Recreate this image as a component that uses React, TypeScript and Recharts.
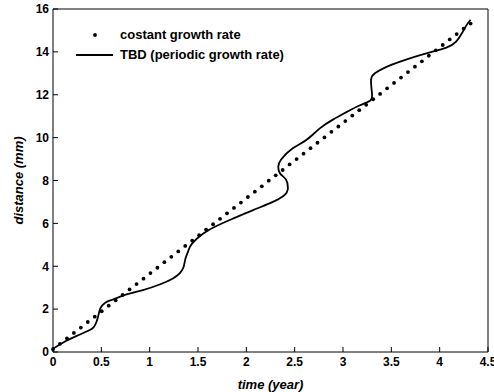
import React from "react";
import {
  ComposedChart,
  Line,
  Scatter,
  XAxis,
  YAxis,
  Legend,
} from "recharts";

// constant growth rate (dotted)
const dotTimes = [
  0, 0.072, 0.144, 0.216, 0.288, 0.36, 0.432, 0.504, 0.576, 0.648, 0.72,
  0.792, 0.864, 0.936, 1.008, 1.08, 1.152, 1.224, 1.296, 1.368, 1.44, 1.512,
  1.584, 1.656, 1.728, 1.8, 1.872, 1.944, 2.016, 2.088, 2.16, 2.232, 2.304,
  2.376, 2.448, 2.52, 2.592, 2.664, 2.736, 2.808, 2.88, 2.952, 3.024, 3.096,
  3.168, 3.24, 3.312, 3.384, 3.456, 3.528, 3.6, 3.672, 3.744, 3.816, 3.888,
  3.96, 4.032, 4.104, 4.176, 4.248, 4.32,
];
const dotDistances = [
  0.13, 0.38, 0.64, 0.89, 1.14, 1.4, 1.65, 1.9, 2.16, 2.41, 2.66, 2.92, 3.17,
  3.42, 3.68, 3.93, 4.19, 4.44, 4.69, 4.95, 5.2, 5.45, 5.71, 5.96, 6.21, 6.47,
  6.72, 6.97, 7.23, 7.48, 7.73, 7.99, 8.24, 8.49, 8.75, 9.0, 9.25, 9.51, 9.76,
  10.01, 10.27, 10.52, 10.77, 11.03, 11.28, 11.53, 11.79, 12.04, 12.3, 12.55,
  12.8, 13.06, 13.31, 13.56, 13.82, 14.07, 14.32, 14.58, 14.83, 15.08, 15.32,
];

// TBD (periodic growth rate), solid
const curveTimes = [
  0, 0.12, 0.245, 0.365, 0.42, 0.45, 0.47, 0.49, 0.54, 0.62, 0.76, 0.93, 1.11,
  1.24, 1.31, 1.35, 1.37, 1.4, 1.44, 1.555, 1.69, 1.865, 2.07, 2.24, 2.39,
  2.43, 2.41, 2.35, 2.33, 2.36, 2.48, 2.62, 2.76, 2.9, 3.04, 3.17, 3.28, 3.3,
  3.29, 3.33, 3.45, 3.66, 3.88, 4.07, 4.17, 4.23, 4.28, 4.32,
];
const curveDistances = [
  0.15, 0.48, 0.75, 0.99, 1.15, 1.41, 1.72, 2.03, 2.3, 2.45, 2.69, 2.89, 3.16,
  3.43, 3.67, 3.95, 4.35, 4.72, 5.07, 5.53, 5.88, 6.23, 6.62, 6.93, 7.3, 7.65,
  8.05, 8.32, 8.64, 8.98, 9.5, 9.89, 10.43, 10.85, 11.2, 11.5, 11.72, 12.06,
  12.69, 13.0, 13.3, 13.65, 13.95, 14.2, 14.48, 14.87, 15.26, 15.5,
];

const xTicks = [0, 0.5, 1, 1.5, 2, 2.5, 3, 3.5, 4, 4.5];
const yTicks = [0, 2, 4, 6, 8, 10, 12, 14, 16];

const dotData = dotTimes.map((x, i) => ({ x, y: dotDistances[i] }));
const curveData = curveTimes.map((x, i) => ({ x, y: curveDistances[i] }));

const FONT = "'Liberation Sans', Arial, sans-serif";
const tickStyle = { fontSize: 12, fontWeight: 700, fill: "#000", fontFamily: FONT };
const axisLabelStyle = {
  fontSize: 13,
  fontWeight: 700,
  fontStyle: "italic",
  fill: "#000",
  fontFamily: FONT,
};

function Dot(props: any) {
  return <circle cx={props.cx} cy={props.cy} r={1.9} fill="#000" />;
}

function LegendBox() {
  return (
    <div
      style={{
        fontFamily: FONT,
        fontWeight: 700,
        fontSize: 13,
        color: "#000",
        lineHeight: "20px",
      }}
    >
      <div style={{ display: "flex", alignItems: "center" }}>
        <svg width={45} height={20}>
          <circle cx={20} cy={10} r={1.9} fill="#000" />
        </svg>
        <span>costant growth rate</span>
      </div>
      <div style={{ display: "flex", alignItems: "center" }}>
        <svg width={45} height={20}>
          <line x1={1} y1={10} x2={38} y2={10} stroke="#000" strokeWidth={1.8} />
        </svg>
        <span>TBD (periodic growth rate)</span>
      </div>
    </div>
  );
}

export default function App() {
  return (
    <div style={{ position: "fixed", left: 0, top: 0, background: "#fff" }}>
      <ComposedChart
        width={494}
        height={392}
        margin={{ top: 8, right: 5, bottom: 0, left: 0 }}
      >
        <XAxis
          dataKey="x"
          type="number"
          domain={[0, 4.5]}
          ticks={xTicks}
          interval={0}
          height={40}
          stroke="#000"
          tickSize={-5}
          tickMargin={10}
          tick={tickStyle}
          label={{
            value: "time (year)",
            position: "insideBottom",
            offset: 3,
            style: axisLabelStyle,
          }}
        />
        <XAxis
          xAxisId="top"
          dataKey="x"
          type="number"
          orientation="top"
          domain={[0, 4.5]}
          ticks={xTicks}
          interval={0}
          height={1}
          stroke="#000"
          tickSize={-5}
          tick={false}
        />
        <YAxis
          dataKey="y"
          type="number"
          domain={[0, 16]}
          ticks={yTicks}
          interval={0}
          width={53}
          stroke="#000"
          tickSize={-5}
          tickMargin={9}
          tick={tickStyle}
          label={{
            value: "distance (mm)",
            angle: -90,
            position: "insideLeft",
            offset: 18,
            style: { ...axisLabelStyle, textAnchor: "middle" },
          }}
        />
        <YAxis
          yAxisId="right"
          dataKey="y"
          type="number"
          orientation="right"
          domain={[0, 16]}
          ticks={yTicks}
          interval={0}
          width={1}
          stroke="#000"
          tickSize={-5}
          tick={false}
        />
        <Legend
          layout="horizontal"
          verticalAlign="middle"
          align="center"
          wrapperStyle={{ top: 25, left: 75, width: 260, height: 40 }}
          content={() => <LegendBox />}
        />
        <Scatter
          data={dotData}
          dataKey="y"
          fill="#000"
          shape={<Dot />}
          isAnimationActive={false}
        />
        <Scatter
          data={dotData}
          dataKey="y"
          xAxisId="top"
          yAxisId="right"
          shape={() => <g />}
          isAnimationActive={false}
        />
        <Line
          data={curveData}
          dataKey="y"
          type="natural"
          stroke="#000"
          strokeWidth={1.8}
          dot={false}
          activeDot={false}
          isAnimationActive={false}
        />
      </ComposedChart>
    </div>
  );
}
